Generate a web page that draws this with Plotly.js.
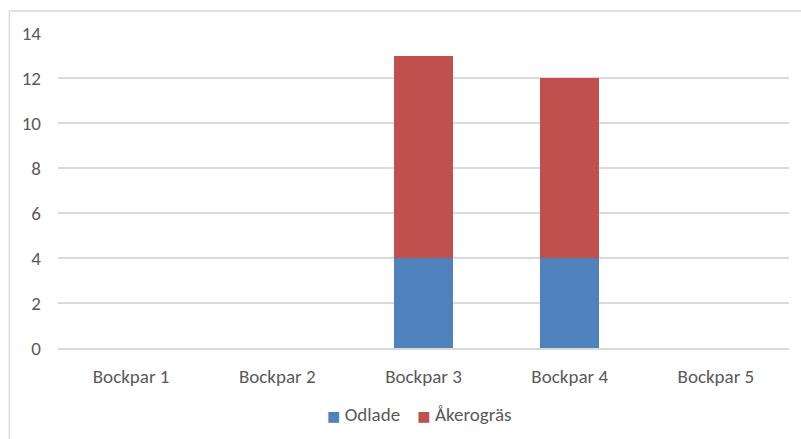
<!DOCTYPE html>
<html>
<head>
<meta charset="utf-8">
<script src="https://cdn.plot.ly/plotly-3.0.1.min.js"></script>
<style>
  html, body { margin: 0; padding: 0; background: #fff; }
  #chart { width: 801px; height: 439px; }
</style>
</head>
<body>
<div id="chart"></div>
<script>
// Stacked columns per buck pair
const categories = ['Bockpar 1', 'Bockpar 2', 'Bockpar 3', 'Bockpar 4', 'Bockpar 5'];
const odlade = [0, 0, 4, 4, 0];
const akerogras = [0, 0, 9, 8, 0];
const yTicks = [0, 2, 4, 6, 8, 10, 12, 14];
const seriesNames = ['Odlade', 'Åkerogräs'];
const seriesColors = ['#4F81BD', '#C0504D'];

const fontFamily = 'Carlito, Calibri, "Open Sans", sans-serif';
const textFont = { family: fontFamily, size: 19, color: '#595959' };

const traces = [
  { type: 'bar', name: seriesNames[0], x: categories, y: odlade, marker: { color: seriesColors[0] }, showlegend: false },
  { type: 'bar', name: seriesNames[1], x: categories, y: akerogras, marker: { color: seriesColors[1] }, showlegend: false }
];

// Compact legend below the plot: colour square followed by series name
const legendText = seriesNames.map((n, i) =>
  '<span style="color:' + seriesColors[i] + ';font-family:DejaVu Sans;font-size:14px">■ </span>' + n
).join('    ');

// Chart frame drawn along left and top edges
const frame = { color: '#d9d9d9', width: 1.5 };

const layout = {
  width: 801,
  height: 439,
  barmode: 'stack',
  bargap: 0.595,
  margin: { l: 58, r: 12, t: 33, b: 91 },
  paper_bgcolor: '#ffffff',
  plot_bgcolor: '#ffffff',
  font: textFont,
  showlegend: false,
  xaxis: {
    type: 'category',
    showgrid: false,
    showline: true, linecolor: '#d9d9d9', linewidth: 1.5,
    ticks: '', ticklabelstandoff: 11,
    tickfont: textFont, fixedrange: true
  },
  yaxis: {
    range: [0, 14],
    tickvals: yTicks,
    ticktext: yTicks.map(String),
    showgrid: true, gridcolor: '#d9d9d9', gridwidth: 1.5,
    zeroline: false, showline: false,
    ticks: '', ticklabelstandoff: 16,
    tickfont: textFont, fixedrange: true
  },
  annotations: [
    { xref: 'paper', yref: 'paper', x: 0.494, y: -0.21, xanchor: 'center', yanchor: 'middle',
      showarrow: false, text: legendText, font: textFont }
  ],
  shapes: [
    { type: 'line', xref: 'paper', yref: 'paper', x0: -0.0665, x1: -0.0665, y0: 1.07, y1: -0.35, line: frame },
    { type: 'line', xref: 'paper', yref: 'paper', x0: -0.0665, x1: 1.1, y0: 1.07, y1: 1.07, line: frame }
  ]
};

Plotly.newPlot('chart', traces, layout, { displayModeBar: false, staticPlot: true });
</script>
</body>
</html>
